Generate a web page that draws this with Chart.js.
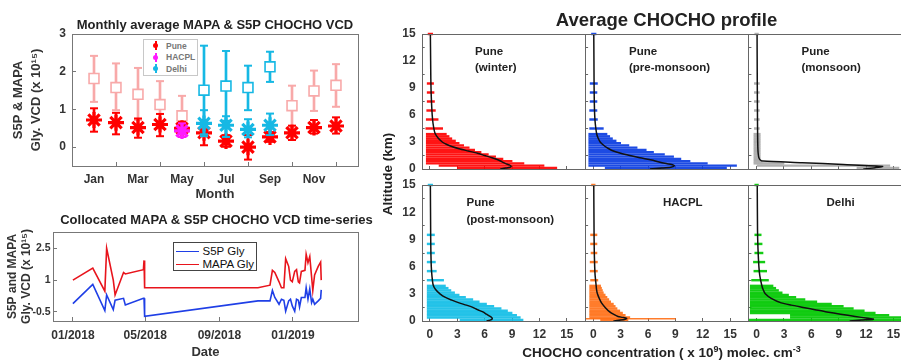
<!DOCTYPE html>
<html><head><meta charset="utf-8">
<script src="https://cdn.jsdelivr.net/npm/chart.js@4.4.1/dist/chart.umd.min.js"></script>
<style>
html,body{margin:0;padding:0;width:901px;height:361px;overflow:hidden;background:#fff;font-family:"Liberation Sans",Arial,sans-serif;}
canvas{position:absolute;left:0;top:0;}
.t{position:absolute;font-weight:bold;color:#222;white-space:nowrap;line-height:1;}
</style></head><body>
<canvas id="cMonth" width="930" height="361"></canvas>
<canvas id="cTs" width="930" height="361"></canvas>
<canvas id="p1" width="930" height="361"></canvas>
<canvas id="p2" width="930" height="361"></canvas>
<canvas id="p3" width="930" height="361"></canvas>
<canvas id="p4" width="930" height="361"></canvas>
<canvas id="p5" width="930" height="361"></canvas>
<canvas id="p6" width="930" height="361"></canvas>
<div id="txt"></div>
<script>
// ---------------- DATA ----------------
const months = [1,2,3,4,5,6,7,8,9,10,11,12];
const monthTickValues = [1,3,5,7,9,11];
const monthTickLabels = ['Jan','Mar','May','Jul','Sep','Nov'];

// Pune MAPA (light red squares)
const puneMapaMonths = [1,2,3,4,5,10,11,12];
const puneMapa   = [1.82,1.58,1.40,1.13,0.83,1.10,1.49,1.64];
const puneMapaLo = [1.20,0.98,0.72,0.50,0.41,0.54,0.96,1.07];
const puneMapaHi = [2.42,2.22,2.10,1.75,1.36,1.63,2.03,2.20];
// Delhi MAPA (cyan squares)
const delhiMapaMonths = [6,7,8,9];
const delhiMapa   = [1.51,1.62,1.58,2.13];
const delhiMapaLo = [0.34,0.70,0.98,1.73];
const delhiMapaHi = [2.69,2.55,2.16,2.53];
// Pune S5P (red asterisks)
const puneS5p   = [0.72,0.65,0.52,0.60,0.50,0.38,0.16,0.00,0.27,0.38,0.52,0.56];
const puneS5pLo = [0.41,0.34,0.25,0.29,0.27,0.05,0.01,-0.33,0.14,0.19,0.36,0.36];
const puneS5pHi = [1.03,0.91,0.76,0.88,0.67,0.72,0.32,0.32,0.40,0.57,0.72,0.79];
// HACPL S5P (magenta)
const hacplMonths = [5];
const hacplS5p = [0.43], hacplS5pLo = [0.27], hacplS5pHi = [0.63];
// Delhi S5P (cyan asterisks)
const delhiS5pMonths = [6,7,8,9];
const delhiS5p   = [0.63,0.58,0.47,0.58];
const delhiS5pLo = [0.29,0.27,0.26,0.32];
const delhiS5pHi = [0.98,0.82,0.74,0.89];

// Time series (days since 2018-01-01)
const dateTickDays = [0,120,243,365];
const dateTickLabels = ['01/2018','05/2018','09/2018','01/2019'];
const tsDays = [0,33,53,56,67,70,84,87,117,118,119,307,327,331,335,342,346,350,353,358,361,364,368,371,374,376,379,385,387,390,393,396,398,401,407,411,412];
const mapaGly = [1.00,1.57,0.48,2.50,1.00,0.30,1.36,1.29,1.49,1.93,0.64,0.64,0.76,1.46,1.36,0.92,0.64,0.64,2.01,1.65,1.00,0.92,1.41,1.49,0.92,0.87,1.41,1.46,2.22,1.82,2.11,1.16,0.51,1.24,1.65,1.85,1.00];
const s5pGly  = [-0.11,0.80,-0.44,0.30,-0.39,0.05,0.14,-0.17,0.14,0.14,-0.71,0.02,0.02,0.51,0.18,-0.14,0.10,0.05,-0.47,0.02,0.10,-0.22,-0.47,0.10,0.05,-0.27,0.18,0.18,0.64,0.10,0.59,-0.06,0.10,-0.14,0.02,0.14,0.54];

// Profiles
const levels = [0.125,0.375,0.625,0.875,1.125,1.375,1.625,1.875,2.125,2.375,2.625,2.875,3.125,3.375,3.625,3.875,4.5,5.5,6.5,7.5,8.5,9.5,15];
const winterMin = [3.0,1.0,-0.4,-0.4,-0.4,-0.4,-0.4,-0.4,-0.4,-0.4,-0.4,-0.4,-0.4,-0.4,-0.4,-0.4,-0.45,-0.4,-0.35,-0.3,-0.3,-0.3,-0.2];
const winterMax = [13.9,12.5,10.3,9.0,8.0,7.2,6.4,5.6,4.9,4.3,3.7,3.2,2.8,2.4,2.1,1.8,1.4,0.9,0.6,0.5,0.45,0.4,0.3];
const preMin = [1.3,-0.5,-0.5,-0.5,-0.5,-0.5,-0.5,-0.5,-0.5,-0.5,-0.5,-0.5,-0.5,-0.5,-0.5,-0.5,-0.4,-0.4,-0.4,-0.35,-0.35,-0.35,-0.2];
const preMax = [14.6,15.7,12.5,10.6,9.6,8.8,7.8,6.6,5.8,4.8,3.9,3.0,2.5,2.1,1.8,1.5,1.1,0.45,0.4,0.4,0.4,0.45,0.3];
const monMin = [11.0,0.0,-0.3,-0.3,-0.3,-0.3,-0.3,-0.3,-0.3,-0.3,-0.3,-0.3,-0.3,-0.3,-0.3,-0.3,-0.25,-0.25,-0.25,-0.25,-0.25,-0.25,-0.2];
const monMax = [15.6,14.6,3.0,0.6,0.4,0.4,0.4,0.4,0.4,0.4,0.4,0.4,0.4,0.4,0.4,0.4,0.3,0.3,0.3,0.3,0.3,0.3,0.2];
const postMin = [3.3,-0.3,-0.3,-0.3,-0.3,-0.3,-0.3,-0.3,-0.3,-0.3,-0.3,-0.3,-0.3,-0.3,-0.3,-0.3,-0.3,-0.3,-0.3,-0.3,-0.3,-0.3,-0.2];
const postMax = [10.2,9.9,9.5,9.0,8.5,7.8,7.0,6.2,5.4,4.7,3.9,3.2,2.7,2.3,2.0,1.7,1.5,0.7,0.6,0.5,0.5,0.5,0.3];
const hacplMin = [0.8,-0.4,-0.4,-0.4,-0.4,-0.4,-0.4,-0.4,-0.4,-0.4,-0.4,-0.4,-0.4,-0.4,-0.4,-0.4,-0.3,-0.35,-0.35,-0.25,-0.3,-0.3,-0.2];
const hacplMax = [3.8,4.0,3.5,3.2,2.9,2.6,2.4,2.2,1.9,1.7,1.5,1.3,1.1,1.0,0.9,0.8,0.5,0.45,0.45,0.4,0.4,0.4,0.2];
const hacplSpikeAlt = [0.25], hacplSpikeMin = [-0.9], hacplSpikeMax = [9.0];
const delhiMin = [-0.9,3.7,3.7,-0.7,-0.7,-0.7,-0.7,-0.7,-0.7,-0.7,-0.7,-0.7,-0.7,-0.7,-0.7,-0.7,-0.55,-0.3,-0.35,-0.2,-0.2,-0.2,-0.2];
const delhiMax = [18.0,18.0,14.5,13.0,11.8,10.6,9.5,8.2,6.6,5.3,4.3,3.5,2.8,2.4,2.1,1.8,1.3,1.1,0.9,0.7,0.6,0.5,0.2];

const winterMeanAlt = [0,0.1,0.2,0.3,0.45,0.6,0.8,1.0,1.25,1.5,1.75,2.0,2.25,2.5,2.75,3.0,3.5,4.0,5,6,8,10,12,15];
const winterMean    = [7.7,8.3,8.8,8.9,8.7,8.3,7.9,7.5,6.8,6.0,5.2,4.2,3.2,2.4,1.8,1.35,0.85,0.55,0.35,0.25,0.15,0.1,0.08,0.05];
const preMeanAlt = [0,0.1,0.2,0.35,0.5,0.6,0.8,1.0,1.25,1.5,1.75,2.0,2.25,2.5,2.75,3.0,3.5,4.0,5,6,8,10,12,15];
const preMean    = [6.2,7.5,8.5,8.9,8.6,8.0,7.1,6.4,5.1,4.0,3.0,2.2,1.7,1.3,1.0,0.75,0.5,0.35,0.22,0.15,0.1,0.08,0.07,0.05];
const monMeanAlt = [0,0.15,0.29,0.5,0.7,0.88,1.0,1.25,1.5,2,3,5,10,15];
const monMean    = [11.7,13.0,13.8,9.5,5.0,0.7,0.4,0.25,0.2,0.15,0.12,0.1,0.07,0.05];
const postMeanAlt = [0,0.1,0.2,0.35,0.5,0.75,1.0,1.25,1.5,1.75,2.0,2.3,2.6,3.0,3.5,4.0,5,6,8,10,15];
const postMean    = [6.2,6.6,6.8,6.8,6.6,6.2,5.8,5.2,4.7,4.0,3.2,2.4,1.7,1.1,0.6,0.35,0.22,0.15,0.1,0.08,0.05];
const hacplMeanAlt = [0,0.1,0.2,0.3,0.4,0.5,0.75,1.0,1.5,2.0,2.5,3.0,3.5,4.0,5,6,8,10,15];
const hacplMean    = [2.2,3.0,3.5,3.65,3.2,2.7,2.2,1.8,1.3,0.9,0.65,0.45,0.35,0.3,0.2,0.15,0.1,0.08,0.05];
const delhiMeanAlt = [0,0.1,0.2,0.3,0.5,0.75,1.0,1.25,1.5,1.75,2.0,2.5,3.0,3.5,4.0,5,6,8,10,15];
const delhiMean    = [10.2,11.5,12.8,12.2,10.8,9.2,7.7,6.4,5.1,3.8,2.7,1.6,0.95,0.7,0.55,0.35,0.25,0.15,0.1,0.07];

const profTicks = [0,3,6,9,12,15];

// ---------------- SETUP ----------------
const W = 930, H = 361;
Chart.defaults.font.family = "'Liberation Sans', Arial, sans-serif";
Chart.defaults.color = '#333';
Chart.defaults.animation = false;
Chart.defaults.responsive = false;
Chart.defaults.devicePixelRatio = 1;
Chart.defaults.plugins.legend.display = false;
Chart.defaults.plugins.tooltip.enabled = false;

const boxPlugin = {
  id: 'box',
  afterDatasetsDraw(chart, args, opts) {
    const a = chart.chartArea, ctx = chart.ctx;
    ctx.save();
    ctx.strokeStyle = opts.color || '#666';
    ctx.lineWidth = opts.width || 1;
    ctx.strokeRect(Math.round(a.left) + 0.5, Math.round(a.top) + 0.5, Math.round(a.right - a.left), Math.round(a.bottom - a.top));
    ctx.restore();
  }
};
Chart.register(boxPlugin);

function pad(area, yW, xH) {
  return { left: area.l - yW, top: area.t, right: W - area.r, bottom: H - area.b - xH };
}
const fixW = w => s => { s.width = w; };
const fixH = h => s => { s.height = h; };
const setTicks = arr => s => { s.ticks = arr.map(v => ({ value: v })); };
const tickFont = { size: 12, weight: 'bold' };

// ---------- Monthly panel ----------
function errSets(xs, v, lo, hi, color, marker, mcolor, fill, r, bw) {
  const bars = { type: 'bar', data: xs.map((x, i) => ({ x: x, y: [lo[i], hi[i]] })), backgroundColor: color, barThickness: 2, grouped: false };
  const caps = { type: 'scatter', data: xs.flatMap((x, i) => [{ x: x, y: lo[i] }, { x: x, y: hi[i] }]), pointStyle: 'line', pointRadius: 4, borderColor: color, borderWidth: 2 };
  const marks = { type: 'scatter', data: xs.map((x, i) => ({ x: x, y: v[i] })), pointStyle: marker, pointRadius: r, borderColor: mcolor, backgroundColor: fill, borderWidth: bw };
  return [marks, caps, bars];
}
const RED = '#ff0000', PINK = '#f8a9a9', CYAN = '#16b8e4', MAG = '#ff19ff';
{
  const area = { l: 72, t: 34, r: 358, b: 166 };
  const yW = 63, xH = 36;
  const ds = [
    ...errSets(hacplMonths, hacplS5p, hacplS5pLo, hacplS5pHi, MAG, 'star', MAG, MAG, 8, 3.2),
    ...errSets(delhiS5pMonths, delhiS5p, delhiS5pLo, delhiS5pHi, CYAN, 'star', CYAN, CYAN, 8, 3.2),
    ...errSets(delhiMapaMonths, delhiMapa, delhiMapaLo, delhiMapaHi, CYAN, 'rect', CYAN, '#fff', 7, 1.6),
    ...errSets(months, puneS5p, puneS5pLo, puneS5pHi, RED, 'star', RED, RED, 8, 3.2),
    ...errSets(puneMapaMonths, puneMapa, puneMapaLo, puneMapaHi, PINK, 'rect', PINK, '#fff', 7, 1.6),
  ];
  new Chart(document.getElementById('cMonth'), {
    type: 'scatter',
    data: { datasets: ds },
    options: {
      layout: { padding: pad(area, yW, xH) },
      plugins: { box: { color: '#777' } },
      scales: {
        x: { type: 'linear', min: 0, max: 13, offset: false, afterFit: fixH(xH), afterBuildTicks: setTicks(monthTickValues),
             border: { display: false }, grid: { drawOnChartArea: false, tickLength: -4, color: '#777' },
             ticks: { autoSkip: false, maxRotation: 0, font: tickFont, padding: 10, callback: v => monthTickLabels[monthTickValues.indexOf(v)] },
             title: { display: true, text: 'Month', font: { size: 13, weight: 'bold' }, padding: 0, color: '#333' } },
        y: { type: 'linear', min: -0.5, max: 3, afterFit: fixW(yW), afterBuildTicks: setTicks([0, 1, 2, 3]),
             border: { display: false }, grid: { drawOnChartArea: false, tickLength: -4, color: '#777' },
             ticks: { font: tickFont, padding: 10 },
             title: { display: true, text: ['S5P & MAPA', 'Gly. VCD (x 10¹⁵)'], font: { size: 13, weight: 'bold', lineHeight: 1.4 }, padding: 0, color: '#333' } }
      }
    }
  });
}

// ---------- Time series ----------
{
  const area = { l: 53, t: 232, r: 358, b: 321 };
  const yW = 48, xH = 39;
  new Chart(document.getElementById('cTs'), {
    type: 'line',
    data: { datasets: [
      { label: 'S5P Gly', data: tsDays.map((d, i) => ({ x: d, y: s5pGly[i] })), borderColor: '#1f3fe6', borderWidth: 1.6, pointRadius: 0, tension: 0 },
      { label: 'MAPA Gly', data: tsDays.map((d, i) => ({ x: d, y: mapaGly[i] })), borderColor: '#e8141c', borderWidth: 1.6, pointRadius: 0, tension: 0 }
    ] },
    options: {
      layout: { padding: pad(area, yW, xH) },
      plugins: { box: { color: '#777' } },
      scales: {
        x: { type: 'linear', min: -33, max: 473, afterFit: fixH(xH), afterBuildTicks: setTicks(dateTickDays),
             border: { display: false }, grid: { drawOnChartArea: false, tickLength: -4, color: '#777' },
             ticks: { autoSkip: false, maxRotation: 0, font: tickFont, padding: 11, callback: v => dateTickLabels[dateTickDays.indexOf(v)] },
             title: { display: true, text: 'Date', font: { size: 13, weight: 'bold' }, padding: 0, color: '#333' } },
        y: { type: 'linear', min: -0.93, max: 3.27, afterFit: fixW(yW), afterBuildTicks: setTicks([-0.5, 1, 2.5]),
             border: { display: false }, grid: { drawOnChartArea: false, tickLength: -4, color: '#777' },
             ticks: { font: { size: 10.5, weight: 'bold' }, padding: 6.5 },
             title: { display: true, text: ['S5P and MAPA', 'Gly. VCD (x 10¹⁵)'], font: { size: 12, weight: 'bold', lineHeight: 1.2 }, padding: 0, color: '#333' } }
      }
    }
  });
}

// ---------- Profiles ----------
function profile(id, area, color, mn, mx, meanAlt, mean, showX, showY, extra) {
  const yW = showY ? 30 : 10, xH = showX ? 20 : 4;
  const ds = [
    { type: 'line', indexAxis: 'y', data: meanAlt.map((a, i) => ({ x: mean[i], y: a })), borderColor: '#111', borderWidth: 1.5, pointRadius: 0, tension: 0.25 },
    { type: 'bar', indexAxis: 'y', data: levels.map((a, i) => ({ y: a, x: [mn[i], mx[i]] })), backgroundColor: color, barThickness: 1.8, grouped: false, clip: false }
  ];
  if (extra) ds.push(extra);
  new Chart(document.getElementById(id), {
    type: 'bar',
    data: { datasets: ds },
    options: {
      indexAxis: 'y',
      layout: { padding: pad(area, yW, xH) },
      plugins: { box: { color: '#666' } },
      scales: {
        x: { type: 'linear', position: 'bottom', min: -0.9, max: 17, offset: false, afterFit: fixH(xH), afterBuildTicks: setTicks(profTicks),
             border: { display: false }, grid: { drawOnChartArea: false, tickLength: -3, color: '#666' },
             ticks: { display: showX, autoSkip: false, maxRotation: 0, font: tickFont, padding: 9 } },
        y: { type: 'linear', position: 'left', min: 0, max: 15, offset: false, afterFit: fixW(yW), afterBuildTicks: setTicks(profTicks),
             border: { display: false }, grid: { drawOnChartArea: false, tickLength: -3, color: '#666' },
             ticks: { display: showY, font: tickFont, padding: 9 } }
      }
    }
  });
}
const topA = { t: 34, b: 169 }, botA = { t: 185, b: 321 };
const cols = [{ l: 421.7, r: 585.1 }, { l: 585.1, r: 748.4 }, { l: 748.4, r: 911.7 }];
profile('p1', { ...cols[0], ...topA }, 'rgba(255,0,0,0.92)', winterMin, winterMax, winterMeanAlt, winterMean, false, true);
profile('p2', { ...cols[1], ...topA }, 'rgba(10,60,225,0.92)', preMin, preMax, preMeanAlt, preMean, false, false);
profile('p3', { ...cols[2], ...topA }, 'rgba(150,150,150,0.75)', monMin, monMax, monMeanAlt, monMean, false, false);
profile('p4', { ...cols[0], ...botA }, 'rgba(20,190,230,0.92)', postMin, postMax, postMeanAlt, postMean, true, true);
profile('p5', { ...cols[1], ...botA }, 'rgba(255,110,20,0.9)', hacplMin, hacplMax, hacplMeanAlt, hacplMean, true, false,
  { type: 'bar', indexAxis: 'y', data: hacplSpikeAlt.map((a, i) => ({ y: a, x: [hacplSpikeMin[i], hacplSpikeMax[i]] })), backgroundColor: 'rgba(255,110,20,0.9)', barThickness: 1, grouped: false });
profile('p6', { ...cols[2], ...botA }, 'rgba(0,200,0,0.92)', delhiMin, delhiMax, delhiMeanAlt, delhiMean, true, false);

// ---------- Text ----------
const T = document.getElementById('txt');
function txt(s, x, y, size, o = {}) {
  const d = document.createElement('div');
  d.className = 't';
  d.innerHTML = s;
  d.style.left = x + 'px'; d.style.top = y + 'px'; d.style.fontSize = size + 'px';
  const ax = o.align === 'left' ? '0' : '-50%';
  d.style.transform = `translate(${ax},-50%)`;
  if (o.rot) { d.style.transform = `translate(-50%,-50%) rotate(${o.rot}deg)`; }
  if (o.weight) d.style.fontWeight = o.weight;
  if (o.color) d.style.color = o.color;
  T.appendChild(d);
  return d;
}
txt('Monthly average MAPA &amp; S5P CHOCHO VCD', 215, 24, 13);
txt('Collocated MAPA &amp; S5P CHOCHO VCD time-series', 216.5, 219, 13);
txt('Average CHOCHO profile', 666.5, 20, 18.5);
txt('Altitude (km)', 388, 174, 13.5, { rot: -90 });
txt('CHOCHO concentration ( x 10<sup style="font-size:9px;vertical-align:5px">9</sup>) molec. cm<sup style="font-size:9px;vertical-align:5px">-3</sup>', 661.5, 352, 13.5);
txt('Pune', 475, 52, 11.5, { align: 'left' });
txt('(winter)', 475, 68, 11.5, { align: 'left' });
txt('Pune', 629, 52, 11.5, { align: 'left' });
txt('(pre-monsoon)', 629, 68, 11.5, { align: 'left' });
txt('Pune', 801.5, 52, 11.5, { align: 'left' });
txt('(monsoon)', 801.5, 68, 11.5, { align: 'left' });
txt('Pune', 466.5, 203, 11.5, { align: 'left' });
txt('(post-monsoon)', 466.5, 220, 11.5, { align: 'left' });
txt('HACPL', 663, 203, 11.5, { align: 'left' });
txt('Delhi', 826.5, 203, 11.5, { align: 'left' });

// legends (HTML)
function legendBox(x, y, w, h, border) {
  const d = document.createElement('div');
  d.style.cssText = `position:absolute;left:${x}px;top:${y}px;width:${w}px;height:${h}px;border:1px solid ${border};background:#fff;box-sizing:border-box;`;
  T.appendChild(d);
}
legendBox(143, 39, 55, 37, '#c8c8c8');
[['Pune', RED, 45.7], ['HACPL', MAG, 57.3], ['Delhi', CYAN, 68.7]].forEach(([n, c, y]) => {
  const ic = document.createElement('div');
  ic.style.cssText = `position:absolute;left:155px;top:${y - 4.5}px;width:1.5px;height:9px;background:${c};`;
  T.appendChild(ic);
  const dot = document.createElement('div');
  dot.style.cssText = `position:absolute;left:153px;top:${y - 2.5}px;width:5px;height:5px;border-radius:50%;background:${c};`;
  T.appendChild(dot);
  txt(n, 166, y, 8.5, { align: 'left', color: '#777' });
});
legendBox(172.7, 241.7, 84.5, 29.5, '#444');
[['S5P Gly', '#1f3fe6', 251.7], ['MAPA Gly', '#e8141c', 264.5]].forEach(([n, c, y]) => {
  const ln = document.createElement('div');
  ln.style.cssText = `position:absolute;left:176px;top:${y - 0.8}px;width:23px;height:1.6px;background:${c};`;
  T.appendChild(ln);
  txt(n, 202.5, y, 11.5, { align: 'left', weight: 'normal', color: '#111' });
});
</script>
</body></html>
